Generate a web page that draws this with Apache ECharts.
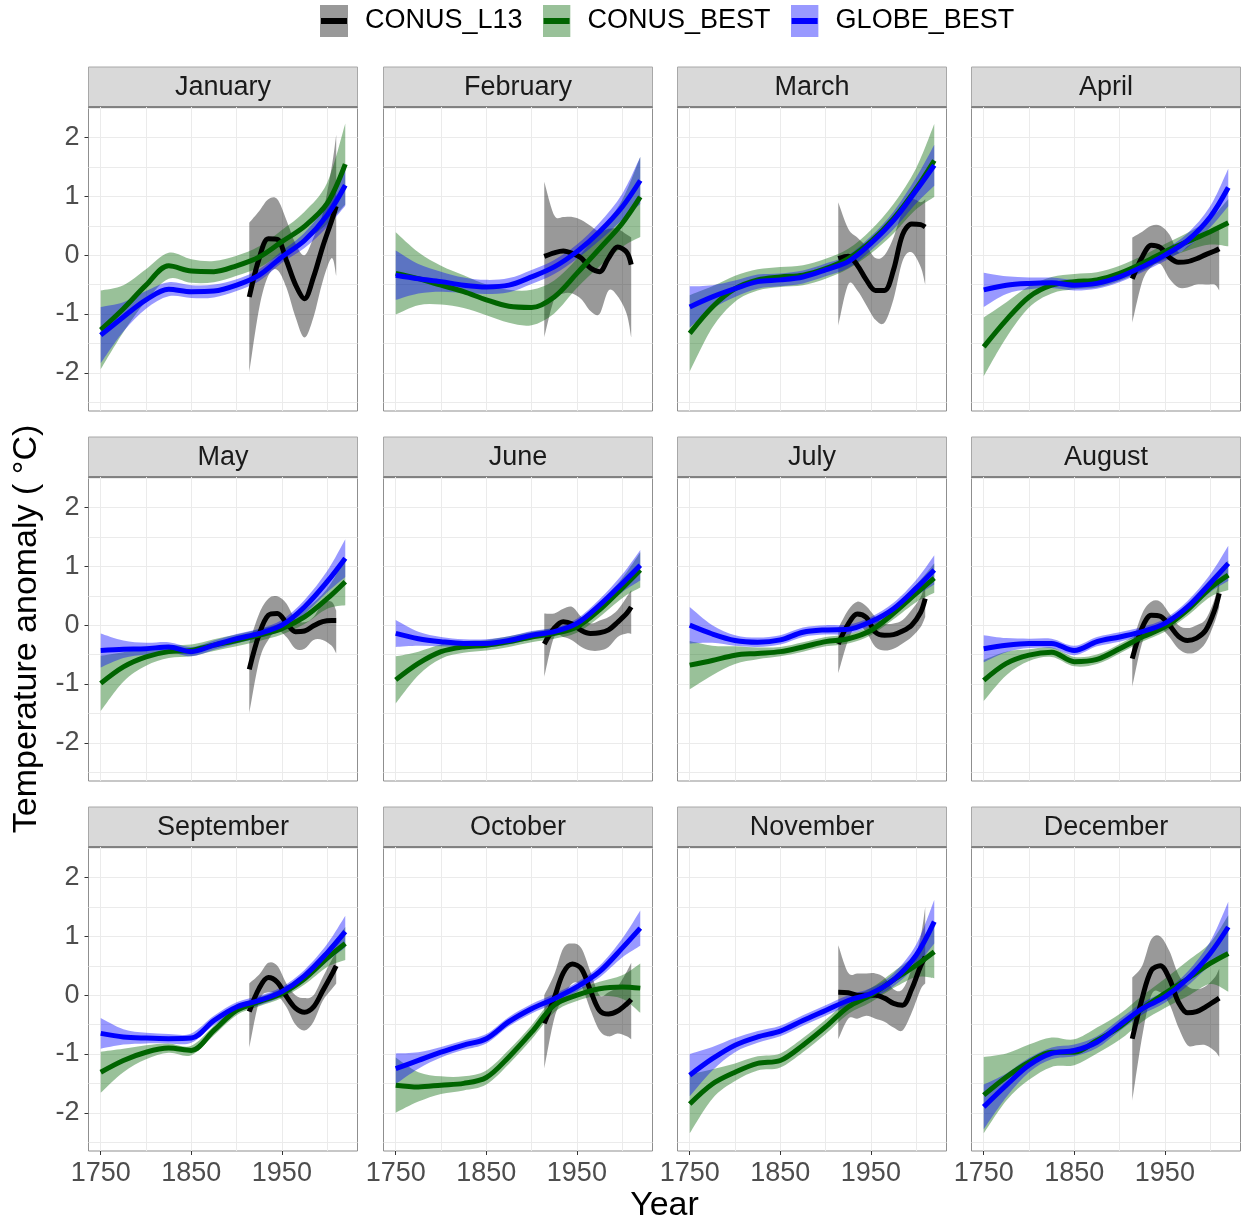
<!DOCTYPE html>
<html><head><meta charset="utf-8">
<script src="https://cdn.jsdelivr.net/npm/echarts@6/dist/echarts.min.js"></script>
<style>html,body{margin:0;padding:0;background:#fff}#c{width:1241px;height:1224px}</style>
</head><body><div id="c"></div>
<script>
const MONTHS = ['January','February','March','April','May','June','July','August','September','October','November','December'];
const SERIES_NAMES = ['CONUS_L13','CONUS_BEST','GLOBE_BEST'];
const YEARS_BEST = [1750,1775,1800,1825,1850,1875,1900,1925,1950,1975,2000,2020];
const YEARS_L13 = [1914,1925,1935,1945,1955,1965,1975,1985,1995,2005,2010];
const X_TICKS = [1750,1850,1950];
const Y_TICKS = [-2,-1,0,1,2];
const X_GRID_LINES = [1750,1800,1850,1900,1950,2000];
const Y_GRID_LINES = [-2.5,-2,-1.5,-1,-0.5,0,0.5,1,1.5,2,2.5];

const GLOBE_MEAN = [
 [-1.36,-1.05,-0.76,-0.58,-0.62,-0.61,-0.51,-0.34,-0.03,0.25,0.68,1.19],
 [-0.34,-0.40,-0.45,-0.51,-0.54,-0.51,-0.37,-0.20,0.06,0.40,0.82,1.27],
 [-0.88,-0.71,-0.57,-0.45,-0.42,-0.37,-0.25,-0.11,0.20,0.59,1.10,1.53],
 [-0.59,-0.51,-0.48,-0.47,-0.51,-0.48,-0.37,-0.20,0.00,0.25,0.65,1.15],
 [-0.43,-0.41,-0.40,-0.37,-0.45,-0.34,-0.23,-0.14,0.00,0.31,0.74,1.14],
 [-0.14,-0.23,-0.28,-0.31,-0.31,-0.26,-0.17,-0.11,0.03,0.34,0.71,1.02],
 [0.00,-0.15,-0.26,-0.29,-0.25,-0.12,-0.08,-0.07,0.06,0.28,0.63,0.94],
 [-0.40,-0.34,-0.31,-0.31,-0.43,-0.28,-0.20,-0.11,0.03,0.31,0.71,1.05],
 [-0.65,-0.71,-0.73,-0.74,-0.73,-0.43,-0.20,-0.09,0.06,0.33,0.72,1.08],
 [-1.25,-1.11,-0.97,-0.85,-0.74,-0.45,-0.23,-0.06,0.14,0.40,0.80,1.14],
 [-1.36,-1.08,-0.85,-0.71,-0.61,-0.43,-0.26,-0.09,0.03,0.26,0.68,1.25],
 [-1.90,-1.53,-1.19,-0.99,-0.94,-0.80,-0.51,-0.23,-0.03,0.28,0.71,1.16]
];
const GLOBE_LO = [
 [-1.84,-1.30,-0.91,-0.70,-0.73,-0.72,-0.61,-0.44,-0.13,0.12,0.48,0.84],
 [-0.76,-0.65,-0.62,-0.64,-0.66,-0.63,-0.49,-0.32,-0.06,0.25,0.60,0.87],
 [-1.23,-0.91,-0.71,-0.57,-0.53,-0.48,-0.36,-0.22,0.08,0.44,0.88,1.18],
 [-0.88,-0.66,-0.58,-0.56,-0.60,-0.57,-0.46,-0.29,-0.10,0.13,0.47,0.83],
 [-0.72,-0.56,-0.50,-0.45,-0.53,-0.42,-0.31,-0.22,-0.09,0.19,0.56,0.82],
 [-0.37,-0.35,-0.36,-0.38,-0.38,-0.33,-0.24,-0.18,-0.05,0.24,0.56,0.76],
 [-0.31,-0.30,-0.35,-0.37,-0.33,-0.20,-0.16,-0.15,-0.02,0.18,0.49,0.69],
 [-0.63,-0.46,-0.39,-0.39,-0.51,-0.36,-0.28,-0.19,-0.05,0.21,0.56,0.75],
 [-0.91,-0.84,-0.82,-0.82,-0.81,-0.51,-0.28,-0.17,-0.02,0.23,0.57,0.81],
 [-1.51,-1.25,-1.06,-0.93,-0.82,-0.53,-0.31,-0.14,0.06,0.30,0.64,0.84],
 [-1.72,-1.28,-0.97,-0.81,-0.70,-0.52,-0.35,-0.18,-0.06,0.15,0.50,0.88],
 [-2.28,-1.73,-1.31,-1.09,-1.04,-0.90,-0.61,-0.33,-0.13,0.16,0.51,0.73]
];
const GLOBE_HI = [
 [-0.88,-0.80,-0.61,-0.46,-0.51,-0.50,-0.41,-0.24,0.07,0.38,0.88,1.54],
 [0.08,-0.15,-0.28,-0.38,-0.42,-0.39,-0.25,-0.08,0.18,0.55,1.04,1.67],
 [-0.53,-0.51,-0.43,-0.33,-0.31,-0.26,-0.14,0.00,0.32,0.74,1.32,1.88],
 [-0.30,-0.36,-0.38,-0.38,-0.42,-0.39,-0.28,-0.11,0.10,0.37,0.83,1.47],
 [-0.14,-0.26,-0.30,-0.29,-0.37,-0.26,-0.15,-0.06,0.09,0.43,0.92,1.46],
 [0.09,-0.11,-0.20,-0.24,-0.24,-0.19,-0.10,-0.04,0.11,0.44,0.86,1.28],
 [0.31,0.00,-0.17,-0.21,-0.17,-0.04,0.00,0.01,0.14,0.38,0.77,1.19],
 [-0.17,-0.22,-0.23,-0.23,-0.35,-0.20,-0.12,-0.03,0.11,0.41,0.86,1.35],
 [-0.39,-0.58,-0.64,-0.66,-0.65,-0.35,-0.12,-0.01,0.14,0.43,0.87,1.35],
 [-0.99,-0.97,-0.88,-0.77,-0.66,-0.37,-0.15,0.02,0.22,0.50,0.96,1.44],
 [-1.00,-0.88,-0.73,-0.61,-0.52,-0.34,-0.17,0.00,0.12,0.37,0.86,1.62],
 [-1.52,-1.33,-1.07,-0.89,-0.84,-0.70,-0.41,-0.13,0.07,0.40,0.91,1.59]
];

const BEST_MEAN = [
 [-1.27,-0.91,-0.51,-0.18,-0.27,-0.28,-0.18,-0.03,0.23,0.49,0.88,1.55],
 [-0.31,-0.40,-0.51,-0.62,-0.76,-0.87,-0.89,-0.71,-0.31,0.11,0.54,0.99],
 [-1.33,-0.88,-0.57,-0.42,-0.37,-0.34,-0.23,-0.06,0.23,0.62,1.13,1.61],
 [-1.56,-1.10,-0.71,-0.51,-0.45,-0.42,-0.31,-0.14,0.06,0.23,0.40,0.55],
 [-0.99,-0.71,-0.54,-0.45,-0.43,-0.34,-0.26,-0.17,-0.06,0.14,0.45,0.74],
 [-0.93,-0.65,-0.45,-0.37,-0.34,-0.28,-0.20,-0.14,-0.03,0.26,0.63,0.94],
 [-0.68,-0.60,-0.51,-0.48,-0.45,-0.37,-0.28,-0.23,-0.09,0.20,0.54,0.80],
 [-0.94,-0.65,-0.51,-0.46,-0.62,-0.58,-0.40,-0.20,-0.03,0.26,0.63,0.85],
 [-1.31,-1.11,-0.97,-0.90,-0.94,-0.60,-0.26,-0.11,0.03,0.28,0.63,0.88],
 [-1.53,-1.56,-1.53,-1.50,-1.40,-1.05,-0.63,-0.17,0.00,0.11,0.14,0.12],
 [-1.85,-1.51,-1.31,-1.16,-1.11,-0.85,-0.54,-0.20,0.00,0.26,0.51,0.74],
 [-1.70,-1.39,-1.14,-0.97,-0.97,-0.77,-0.54,-0.23,0.03,0.28,0.54,0.71]
];
const BEST_LO = [
 [-1.94,-1.31,-0.78,-0.40,-0.47,-0.46,-0.35,-0.21,0.03,0.24,0.53,0.86],
 [-1.01,-0.85,-0.84,-0.90,-1.02,-1.15,-1.19,-0.99,-0.56,-0.19,0.14,0.31],
 [-1.98,-1.23,-0.79,-0.60,-0.54,-0.51,-0.40,-0.23,0.03,0.37,0.78,0.99],
 [-2.06,-1.40,-0.89,-0.65,-0.58,-0.55,-0.44,-0.27,-0.07,0.08,0.18,0.15],
 [-1.46,-0.96,-0.69,-0.56,-0.53,-0.44,-0.36,-0.27,-0.16,0.02,0.28,0.34],
 [-1.33,-0.85,-0.57,-0.47,-0.43,-0.37,-0.29,-0.23,-0.13,0.14,0.46,0.64],
 [-1.09,-0.85,-0.66,-0.58,-0.53,-0.45,-0.36,-0.31,-0.17,0.10,0.39,0.55],
 [-1.29,-0.85,-0.61,-0.54,-0.70,-0.66,-0.48,-0.28,-0.11,0.16,0.48,0.60],
 [-1.66,-1.31,-1.09,-0.98,-1.02,-0.68,-0.34,-0.19,-0.05,0.18,0.48,0.60],
 [-2.00,-1.81,-1.68,-1.62,-1.52,-1.17,-0.75,-0.29,-0.10,-0.01,-0.06,-0.30],
 [-2.35,-1.76,-1.46,-1.28,-1.23,-0.97,-0.66,-0.32,-0.12,0.12,0.31,0.29],
 [-2.35,-1.79,-1.44,-1.22,-1.19,-0.99,-0.76,-0.45,-0.22,-0.02,0.19,0.06]
];
const BEST_HI = [
 [-0.60,-0.51,-0.24,0.04,-0.07,-0.10,-0.01,0.15,0.43,0.74,1.23,2.24],
 [0.39,0.05,-0.18,-0.34,-0.50,-0.59,-0.59,-0.43,-0.06,0.41,0.94,1.67],
 [-0.68,-0.53,-0.35,-0.24,-0.20,-0.17,-0.06,0.11,0.43,0.87,1.48,2.23],
 [-1.06,-0.80,-0.53,-0.37,-0.32,-0.29,-0.18,-0.01,0.19,0.38,0.62,0.95],
 [-0.52,-0.46,-0.39,-0.34,-0.33,-0.24,-0.16,-0.07,0.04,0.26,0.62,1.14],
 [-0.53,-0.45,-0.33,-0.27,-0.25,-0.19,-0.11,-0.05,0.07,0.38,0.80,1.24],
 [-0.27,-0.35,-0.36,-0.38,-0.37,-0.29,-0.20,-0.15,-0.01,0.30,0.69,1.05],
 [-0.59,-0.45,-0.41,-0.38,-0.54,-0.50,-0.32,-0.12,0.05,0.36,0.78,1.10],
 [-0.96,-0.91,-0.85,-0.82,-0.86,-0.52,-0.18,-0.03,0.11,0.38,0.78,1.16],
 [-1.06,-1.31,-1.38,-1.38,-1.28,-0.93,-0.51,-0.05,0.10,0.23,0.34,0.54],
 [-1.35,-1.26,-1.16,-1.04,-0.99,-0.73,-0.42,-0.08,0.12,0.40,0.71,1.19],
 [-1.05,-0.99,-0.84,-0.72,-0.75,-0.55,-0.32,-0.01,0.28,0.58,0.89,1.36]
];

const L13_MEAN = [
 [-0.71,-0.05,0.28,0.27,-0.09,-0.50,-0.74,-0.37,0.14,0.59,0.83],
 [-0.02,0.04,0.07,0.03,-0.05,-0.22,-0.28,-0.05,0.14,0.05,-0.16],
 [-0.06,-0.02,-0.17,-0.42,-0.60,-0.60,-0.25,0.35,0.53,0.52,0.48],
 [-0.40,-0.03,0.17,0.13,-0.04,-0.12,-0.11,-0.06,0.01,0.07,0.11],
 [-0.75,-0.15,0.17,0.20,0.04,-0.11,-0.10,-0.01,0.06,0.08,0.08],
 [-0.32,-0.05,0.06,0.02,-0.09,-0.14,-0.13,-0.08,0.05,0.20,0.31],
 [-0.32,0.02,0.19,0.13,-0.12,-0.17,-0.16,-0.10,0.00,0.22,0.45],
 [-0.57,-0.04,0.17,0.15,0.00,-0.19,-0.26,-0.22,-0.09,0.26,0.54],
 [-0.28,0.12,0.30,0.22,-0.02,-0.22,-0.29,-0.20,0.07,0.35,0.50],
 [-0.48,-0.05,0.38,0.53,0.45,0.08,-0.26,-0.32,-0.27,-0.15,-0.07],
 [0.05,0.04,0.00,0.00,0.00,-0.05,-0.14,-0.17,0.10,0.50,0.65],
 [-0.74,-0.05,0.42,0.50,0.28,-0.12,-0.30,-0.28,-0.20,-0.10,-0.05]
];
const L13_LO = [
 [-2.00,-0.90,-0.35,-0.25,-0.55,-1.05,-1.40,-1.05,-0.45,-0.05,-0.35],
 [-1.40,-0.75,-0.65,-0.65,-0.75,-0.95,-1.00,-0.60,-0.70,-1.00,-1.40],
 [-1.20,-0.50,-0.60,-0.85,-1.10,-1.15,-0.75,-0.10,0.05,-0.20,-0.50],
 [-1.15,-0.45,-0.20,-0.15,-0.40,-0.55,-0.55,-0.50,-0.50,-0.50,-0.60],
 [-1.50,-0.60,-0.25,-0.09,-0.20,-0.40,-0.40,-0.25,-0.25,-0.35,-0.48],
 [-0.88,-0.20,-0.20,-0.26,-0.37,-0.43,-0.43,-0.37,-0.20,-0.14,-0.15],
 [-0.82,-0.25,0.00,-0.12,-0.37,-0.43,-0.40,-0.31,-0.20,-0.03,0.14],
 [-1.05,-0.30,-0.05,-0.05,-0.20,-0.40,-0.48,-0.45,-0.30,0.05,0.30],
 [-0.90,-0.10,0.05,0.00,-0.20,-0.50,-0.60,-0.45,-0.10,0.10,0.20],
 [-1.25,-0.40,-0.05,0.20,0.15,-0.25,-0.60,-0.70,-0.65,-0.70,-0.75],
 [-0.75,-0.40,-0.40,-0.35,-0.40,-0.45,-0.55,-0.60,-0.30,0.10,0.20],
 [-1.80,-0.70,0.00,0.05,-0.15,-0.55,-0.85,-0.85,-0.85,-0.95,-1.05]
];
const L13_HI = [
 [0.55,0.75,0.95,0.95,0.60,0.20,0.00,0.30,0.70,1.50,2.05],
 [1.25,0.68,0.65,0.65,0.60,0.50,0.40,0.45,0.45,0.35,0.30],
 [0.90,0.45,0.30,0.15,-0.05,0.00,0.30,0.75,0.95,0.90,0.95],
 [0.30,0.40,0.50,0.50,0.35,0.05,0.15,0.25,0.35,0.45,0.45],
 [-0.30,0.20,0.45,0.49,0.37,0.10,0.05,0.14,0.37,0.40,0.25],
 [0.20,0.20,0.28,0.31,0.14,0.03,0.08,0.14,0.26,0.48,0.60],
 [-0.05,0.26,0.40,0.32,0.14,0.03,0.03,0.09,0.26,0.48,0.71],
 [-0.30,0.20,0.40,0.40,0.20,0.00,-0.05,0.00,0.10,0.45,0.80],
 [0.20,0.35,0.55,0.50,0.20,0.00,-0.05,0.00,0.30,0.60,0.70],
 [0.00,0.35,0.80,0.88,0.80,0.40,0.00,0.05,0.15,0.40,0.55],
 [0.85,0.38,0.37,0.37,0.37,0.30,0.10,0.10,0.45,1.00,1.50],
 [0.30,0.50,0.95,1.00,0.75,0.35,0.15,0.10,0.15,0.30,0.45]
];

// ---- styling / layout ----
const FONT = "'Liberation Sans', Arial, Helvetica, sans-serif";
const X_MIN = 1736.5, X_MAX = 2033.5, Y_MIN = -2.65, Y_MAX = 2.52;
const COL_L = [88.5, 383.5, 677.5, 971.5], COL_W = 269;
const ROW_T = [107, 477, 847], ROW_H = 304, STRIP_H = 40;
const LINE_COLORS = {CONUS_L13:'#000000', CONUS_BEST:'#006400', GLOBE_BEST:'#0000FF'};
const BAND_COLORS = {CONUS_L13:'rgba(0,0,0,0.4)', CONUS_BEST:'rgba(0,100,0,0.4)', GLOBE_BEST:'rgba(0,0,255,0.4)'};
const KEY_FILL = {CONUS_L13:'#999999', CONUS_BEST:'#99C199', GLOBE_BEST:'#9999FF'};

function smoothD(p, start) {
  let d = (start ? 'M' : 'L') + p[0][0] + ' ' + p[0][1];
  for (let i = 0; i < p.length - 1; i++) {
    const p0 = p[i - 1] || p[i], p1 = p[i], p2 = p[i + 1], p3 = p[i + 2] || p[i + 1];
    const c1x = p1[0] + (p2[0] - p0[0]) / 6, c1y = p1[1] + (p2[1] - p0[1]) / 6;
    const c2x = p2[0] - (p3[0] - p1[0]) / 6, c2y = p2[1] - (p3[1] - p1[1]) / 6;
    d += ' C' + c1x + ' ' + c1y + ' ' + c2x + ' ' + c2y + ' ' + p2[0] + ' ' + p2[1];
  }
  return d;
}

function bandSeries(name, gi, years, lo, hi) {
  return {
    type: 'custom', name: name, xAxisIndex: 2 * gi + 1, yAxisIndex: 2 * gi + 1,
    silent: true, animation: false,
    data: [[years[0], lo[0]]],
    renderItem: function (params, api) {
      const up = years.map((y, k) => api.coord([y, hi[k]]));
      const dn = years.map((y, k) => api.coord([y, lo[k]])).reverse();
      return {
        type: 'path',
        shape: { pathData: smoothD(up, true) + ' ' + smoothD(dn, false) + ' Z' },
        style: { fill: BAND_COLORS[name], stroke: null }
      };
    }
  };
}
function lineSeries(name, gi, years, mean) {
  return {
    type: 'line', name: name, xAxisIndex: 2 * gi + 1, yAxisIndex: 2 * gi + 1,
    data: years.map((y, k) => [y, mean[k]]),
    smooth: 0.33, symbol: 'none', showSymbol: false, silent: true, animation: false,
    lineStyle: { color: LINE_COLORS[name], width: 5 },
    itemStyle: { color: LINE_COLORS[name] }
  };
}

const grids = [], xAxes = [], yAxes = [], series = [], graphics = [];
MONTHS.forEach((m, gi) => {
  const r = Math.floor(gi / 4), c = gi % 4;
  const L = COL_L[c], T = ROW_T[r];
  const isLeft = c === 0, isBottom = r === 2;
  grids.push({ left: L, top: T, width: COL_W, height: ROW_H, show: true,
    borderColor: '#8f8f8f', borderWidth: 1, backgroundColor: '#ffffff',
    containLabel: false, outerBoundsMode: 'none' });
  // gridline axes
  xAxes.push({ type: 'value', gridIndex: gi, min: X_MIN, max: X_MAX, position: 'bottom',
    axisLine: { show: false, onZero: false }, axisTick: { show: false, customValues: X_GRID_LINES },
    axisLabel: { show: false }, splitLine: { show: true, lineStyle: { color: '#EBEBEB', width: 1 } } });
  xAxes.push({ type: 'value', gridIndex: gi, min: X_MIN, max: X_MAX, position: 'bottom',
    axisLine: { show: false, onZero: false },
    axisTick: { show: isBottom, customValues: X_TICKS, length: 4, lineStyle: { color: '#333333', width: 1 } },
    axisLabel: { show: isBottom, customValues: X_TICKS, fontSize: 27, color: '#4D4D4D', fontFamily: FONT, margin: 9,
      formatter: v => String(Math.round(v)) },
    splitLine: { show: false } });
  yAxes.push({ type: 'value', gridIndex: gi, min: Y_MIN, max: Y_MAX, position: 'left',
    axisLine: { show: false, onZero: false }, axisTick: { show: false, customValues: Y_GRID_LINES },
    axisLabel: { show: false }, splitLine: { show: true, lineStyle: { color: '#EBEBEB', width: 1 } } });
  yAxes.push({ type: 'value', gridIndex: gi, min: Y_MIN, max: Y_MAX, position: 'left',
    axisLine: { show: false, onZero: false },
    axisTick: { show: isLeft, customValues: Y_TICKS, length: 4, lineStyle: { color: '#333333', width: 1 } },
    axisLabel: { show: isLeft, customValues: Y_TICKS, fontSize: 27, color: '#4D4D4D', fontFamily: FONT, margin: 9,
      formatter: v => String(v) },
    splitLine: { show: false } });

  series.push(bandSeries('CONUS_L13', gi, YEARS_L13, L13_LO[gi], L13_HI[gi]));
  series.push(lineSeries('CONUS_L13', gi, YEARS_L13, L13_MEAN[gi]));
  series.push(bandSeries('CONUS_BEST', gi, YEARS_BEST, BEST_LO[gi], BEST_HI[gi]));
  series.push(lineSeries('CONUS_BEST', gi, YEARS_BEST, BEST_MEAN[gi]));
  series.push(bandSeries('GLOBE_BEST', gi, YEARS_BEST, GLOBE_LO[gi], GLOBE_HI[gi]));
  series.push(lineSeries('GLOBE_BEST', gi, YEARS_BEST, GLOBE_MEAN[gi]));

  // facet strip
  graphics.push({ type: 'rect', silent: true, shape: { x: L, y: T - STRIP_H, width: COL_W, height: STRIP_H },
    style: { fill: '#D9D9D9', stroke: '#A8A8A8', lineWidth: 1 } });
  graphics.push({ type: 'line', silent: true, shape: { x1: L, y1: T, x2: L + COL_W, y2: T },
    style: { stroke: '#6E6E6E', lineWidth: 1.5 } });
  graphics.push({ type: 'text', silent: true, x: L + COL_W / 2, y: T - STRIP_H / 2 + 1,
    style: { text: m, fontSize: 27, fontFamily: FONT, fill: '#1A1A1A',
      align: 'center', verticalAlign: 'middle', textAlign: 'center', textVerticalAlign: 'middle' } });
});

graphics.push({ type: 'text', silent: true, x: 27, y: 629, rotation: Math.PI / 2,
  style: { text: 'Temperature anomaly ( °C)', fontSize: 34, fontFamily: FONT, fill: '#000000',
    align: 'center', verticalAlign: 'middle', textAlign: 'center', textVerticalAlign: 'middle' } });
graphics.push({ type: 'text', silent: true, x: 664.5, y: 1206,
  style: { text: 'Year', fontSize: 34, fontFamily: FONT, fill: '#000000',
    align: 'center', verticalAlign: 'middle', textAlign: 'center', textVerticalAlign: 'middle' } });

function keyIcon(name) {
  const svg = "<svg xmlns='http://www.w3.org/2000/svg' width='28' height='32' viewBox='0 0 28 32'>" +
    "<rect x='0' y='0' width='28' height='32' fill='" + KEY_FILL[name] + "'/>" +
    "<rect x='1' y='13' width='26' height='6' fill='" + LINE_COLORS[name] + "'/></svg>";
  return 'image://data:image/svg+xml;charset=utf-8,' + encodeURIComponent(svg);
}

const chart = echarts.init(document.getElementById('c'), null, { renderer: 'canvas', width: 1241, height: 1224 });
chart.setOption({
  backgroundColor: '#ffffff',
  animation: false,
  legend: {
    top: 5, left: 320, padding: 0, itemWidth: 28, itemHeight: 32, itemGap: 20, selectedMode: false,
    textStyle: { fontSize: 27, color: '#000000', fontFamily: FONT, padding: [0, 0, 0, 12] },
    data: SERIES_NAMES.map(n => ({ name: n, icon: keyIcon(n) }))
  },
  grid: grids, xAxis: xAxes, yAxis: yAxes, series: series, graphic: graphics
});
</script>
</body></html>
